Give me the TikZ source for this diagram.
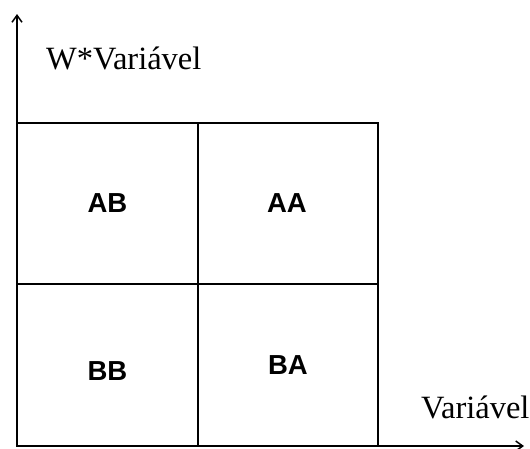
\documentclass[tikz,border=0pt]{standalone}
\usepackage{fontspec}
\setmainfont{Liberation Serif}
\newfontfamily\cellfont{Liberation Sans}
\usetikzlibrary{arrows.meta}
\begin{document}
\begin{tikzpicture}[x=1pt,y=-1pt,
  axis/.style={line width=1.5pt,-{Straight Barb[length=7pt,width=10pt,line width=1.5pt]}},
  gridline/.style={line width=2.6pt},
  cell/.style={font=\cellfont\bfseries\fontsize{27.5}{33}\selectfont},
  axlabel/.style={font=\fontsize{32.5}{38}\selectfont,anchor=base west,inner sep=0pt}]
\useasboundingbox (0,0) rectangle (530,448);
% axes
\coordinate (o) at (17,446);
\coordinate (ytip) at (17,14);
\coordinate (xtip) at (524,446);
\draw[axis] (o) -- (ytip);
\draw[axis] (o) -- (xtip);
% quadrant grid
\coordinate (tl) at (17,123);
\coordinate (tr) at (378,123);
\coordinate (br) at (378,446);
\coordinate (tm) at (198,123);
\coordinate (bm) at (198,446);
\coordinate (ml) at (17,284);
\coordinate (mr) at (378,284);
\draw[gridline] (o) -- (tl) -- (tr) -- (br) -- cycle;
\draw[gridline] (tm) -- (bm);
\draw[gridline] (ml) -- (mr);
% quadrant labels
\node[cell] (ab) at (107.5,203) {AB};
\node[cell] (aa) at (287,203) {AA};
\node[cell] (bb) at (107.5,371) {BB};
\node[cell] (ba) at (288,365.5) {BA};
% axis labels
\node[axlabel] (ylab) at (46,69) {W*Variável};
\node[axlabel] (xlab) at (421,418) {Variável};
\end{tikzpicture}
\end{document}
